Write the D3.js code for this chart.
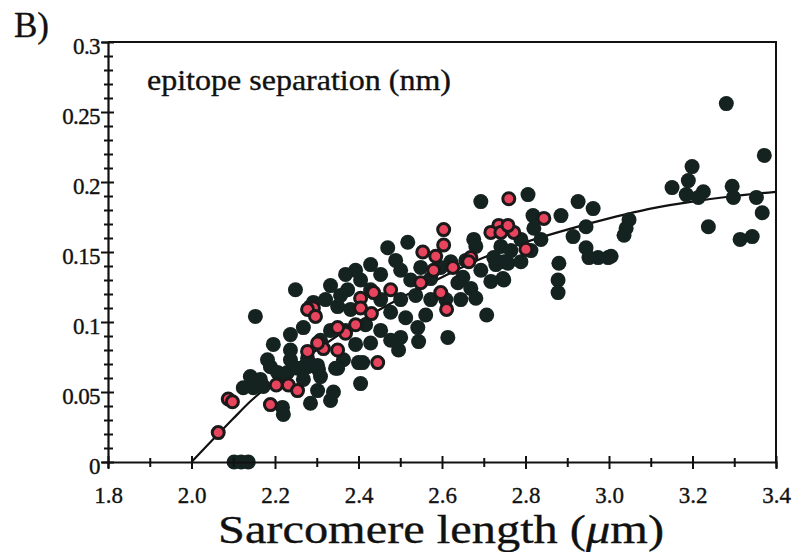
<!DOCTYPE html>
<html>
<head>
<meta charset="utf-8">
<script src="https://cdn.jsdelivr.net/npm/d3@7"></script>
<style>
  body { margin: 0; background: #fff; }
  svg { display: block; }
  svg text { font-family: "Liberation Serif", "Times New Roman", Times, serif; stroke: #111; stroke-width: 0.35px; }
</style>
</head>
<body>
<svg id="chart" width="800" height="552"></svg>
<script>
// Tick values and labels
const xTicks = [1.8, 2.0, 2.2, 2.4, 2.6, 2.8, 3.0, 3.2, 3.4];
const xMinorTicks = [1.9, 2.1, 2.3, 2.5, 2.7, 2.9, 3.1, 3.3];
const yTicks = [0, 0.05, 0.1, 0.15, 0.2, 0.25, 0.3];
const yTickLabels = ["0", "0.05", "0.1", "0.15", "0.2", "0.25", "0.3"];
const yMinorTicks = d3.range(1, 30).filter(i => i % 5 !== 0).map(i => i / 100);

// Fitted curve
const fitX = [2.0, 2.064, 2.1, 2.14, 2.2, 2.3, 2.4, 2.5, 2.6, 2.7, 2.8, 2.9, 3.0, 3.1, 3.2, 3.3, 3.4];
const fitY = [0, 0.02, 0.031, 0.043, 0.058, 0.08, 0.1, 0.117, 0.132, 0.146, 0.157, 0.166, 0.174, 0.181, 0.186, 0.19, 0.193];

// Dark (black) points: [sarcomere length, separation]
const darkPoints = [
  [3.281, 0.256], [3.372, 0.219], [3.199, 0.211], [3.190, 0.201], [3.151, 0.196], [3.185, 0.191],
  [3.226, 0.193], [3.214, 0.189], [3.295, 0.197], [3.298, 0.189], [3.353, 0.189], [3.367, 0.178],
  [3.238, 0.168], [3.314, 0.159], [3.343, 0.161], [3.048, 0.173], [3.041, 0.167], [3.036, 0.162],
  [2.998, 0.146], [2.974, 0.146], [3.005, 0.147],
  [2.693, 0.186], [2.806, 0.191], [2.926, 0.186], [2.962, 0.181], [2.885, 0.176], [2.945, 0.168],
  [2.914, 0.161], [2.945, 0.153], [2.952, 0.146], [2.880, 0.142], [2.878, 0.130], [2.878, 0.121],
  [2.818, 0.176], [2.820, 0.167], [2.837, 0.159], [2.789, 0.159], [2.741, 0.154], [2.724, 0.146],
  [2.729, 0.141], [2.748, 0.143], [2.746, 0.131], [2.765, 0.151], [2.707, 0.105], [2.676, 0.159],
  [2.681, 0.154], [2.518, 0.157], [2.650, 0.132], [2.638, 0.128], [2.542, 0.096], [2.614, 0.089],
  [2.544, 0.086], [2.470, 0.153], [2.489, 0.144], [2.496, 0.080], [2.410, 0.071], [2.429, 0.085],
  [2.453, 0.134], [2.758, 0.142], [2.748, 0.130],
  [2.249, 0.123], [2.153, 0.104], [2.374, 0.123], [2.292, 0.114], [2.350, 0.111], [2.268, 0.096],
  [2.237, 0.091], [2.196, 0.084], [2.237, 0.080], [2.182, 0.073], [2.364, 0.073], [2.350, 0.067],
  [2.501, 0.089], [2.141, 0.061], [2.230, 0.064], [2.278, 0.068], [2.304, 0.066], [2.285, 0.111],
  [2.189, 0.068], [2.237, 0.073], [2.278, 0.074], [2.254, 0.067], [2.206, 0.064], [2.302, 0.069],
  [2.345, 0.067], [2.400, 0.071], [2.165, 0.059], [2.124, 0.053], [2.148, 0.053], [2.172, 0.054],
  [2.220, 0.062], [2.268, 0.059], [2.309, 0.061], [2.302, 0.051], [2.340, 0.050], [2.285, 0.042],
  [2.333, 0.044], [2.405, 0.056], [2.218, 0.039], [2.220, 0.034],
  [2.102, 0], [2.119, 0], [2.136, 0],
  [2.501, 0.137], [2.525, 0.130], [2.549, 0.139], [2.573, 0.131], [2.597, 0.139], [2.621, 0.143],
  [2.657, 0.144], [2.669, 0.124], [2.645, 0.116], [2.609, 0.116], [2.573, 0.116], [2.537, 0.119],
  [2.501, 0.116], [2.477, 0.107], [2.513, 0.103], [2.561, 0.105], [2.453, 0.116], [2.429, 0.123],
  [2.405, 0.130], [2.429, 0.141], [2.393, 0.137], [2.369, 0.134], [2.357, 0.119], [2.333, 0.126],
  [2.321, 0.116], [2.381, 0.109], [2.417, 0.098], [2.453, 0.094], [2.477, 0.087], [2.393, 0.084],
  [2.333, 0.094], [2.309, 0.087], [2.369, 0.094], [2.693, 0.137], [2.717, 0.129], [2.681, 0.117],
  [2.789, 0.143], [2.813, 0.151]
];

// Red (pink) points
const redPoints = [
  [2.760, 0.188], [2.844, 0.174], [2.736, 0.169], [2.717, 0.164], [2.741, 0.164], [2.772, 0.164],
  [2.758, 0.169], [2.801, 0.152], [2.669, 0.146], [2.604, 0.166], [2.604, 0.155], [2.585, 0.147],
  [2.626, 0.139], [2.549, 0.128], [2.597, 0.121], [2.611, 0.109], [2.554, 0.150], [2.664, 0.143],
  [2.580, 0.137], [2.477, 0.123], [2.436, 0.121], [2.405, 0.117], [2.405, 0.110], [2.431, 0.106],
  [2.446, 0.071], [2.369, 0.092], [2.393, 0.098], [2.292, 0.110], [2.278, 0.109], [2.297, 0.104],
  [2.350, 0.096], [2.278, 0.079], [2.316, 0.081], [2.350, 0.080], [2.302, 0.085], [2.203, 0.055],
  [2.232, 0.055], [2.254, 0.051], [2.088, 0.045], [2.098, 0.043], [2.189, 0.041], [2.064, 0.021]
];

const svg = d3.select("#chart");
const plotLeft = 108, plotRight = 776, plotTop = 42, plotBottom = 462;

const x = d3.scaleLinear().domain([1.8, 3.4]).range([plotLeft, plotRight]);
const y = d3.scaleLinear().domain([0, 0.3]).range([plotBottom, plotTop]);

const ink = "#111";
const dark = "#142220";
const pink = "#e8445d";

// Frame: top and right edges
svg.append("path")
  .attr("d", `M${plotLeft},${plotTop}H${plotRight}V${plotBottom}`)
  .attr("fill", "none")
  .attr("stroke", ink)
  .attr("stroke-width", 2);

// Fitted curve (under the dots)
const fit = fitX.map((v, i) => [v, fitY[i]]);
svg.append("path")
  .datum(fit)
  .attr("fill", "none")
  .attr("stroke", ink)
  .attr("stroke-width", 2.2)
  .attr("d", d3.line().x(d => x(d[0])).y(d => y(d[1])).curve(d3.curveMonotoneX));

// Dots
svg.append("g").selectAll("circle")
  .data(darkPoints)
  .join("circle")
  .attr("cx", d => x(d[0]))
  .attr("cy", d => y(d[1]))
  .attr("r", 7.5)
  .attr("fill", dark);

svg.append("g").selectAll("circle")
  .data(redPoints)
  .join("circle")
  .attr("cx", d => x(d[0]))
  .attr("cy", d => y(d[1]))
  .attr("r", 6)
  .attr("fill", pink)
  .attr("stroke", "#1a1a1a")
  .attr("stroke-width", 3);

// X axis: major and minor ticks crossing the line
const xAxis = svg.append("g")
  .attr("transform", `translate(0,${plotBottom})`)
  .call(d3.axisBottom(x).tickValues(xTicks).tickFormat(d3.format(".1f")).tickSize(6).tickPadding(19));
xAxis.attr("font-family", null);
xAxis.select(".domain").attr("stroke", ink).attr("stroke-width", 2.2);
xAxis.selectAll(".tick line").attr("y1", -6).attr("y2", 7).attr("stroke", ink).attr("stroke-width", 2);
xAxis.selectAll(".tick text")
  .attr("fill", ink)
  .style("font-size", "23px");

const xMinor = svg.append("g")
  .attr("transform", `translate(0,${plotBottom})`)
  .call(d3.axisBottom(x).tickValues(xMinorTicks).tickFormat("").tickSize(4));
xMinor.select(".domain").remove();
xMinor.selectAll(".tick line").attr("y1", -4).attr("y2", 5).attr("stroke", ink).attr("stroke-width", 2);

// Y axis
const yAxis = svg.append("g")
  .attr("transform", `translate(${plotLeft},0)`)
  .call(d3.axisLeft(y).tickValues(yTicks).tickFormat((d, i) => yTickLabels[i]).tickSize(6).tickPadding(2));
yAxis.attr("font-family", null);
yAxis.select(".domain").attr("stroke", ink).attr("stroke-width", 2.2);
yAxis.selectAll(".tick line").attr("x1", -7).attr("x2", 6).attr("stroke", ink).attr("stroke-width", 2);
yAxis.selectAll(".tick text")
  .attr("fill", ink)
  .attr("dy", "0.5em")
  .style("font-size", "23px")
  .style("letter-spacing", "-0.6px");

const yMinor = svg.append("g")
  .attr("transform", `translate(${plotLeft},0)`)
  .call(d3.axisLeft(y).tickValues(yMinorTicks).tickFormat("").tickSize(4));
yMinor.select(".domain").remove();
yMinor.selectAll(".tick line").attr("x1", -4).attr("x2", 5).attr("stroke", ink).attr("stroke-width", 2);

// Texts
svg.append("text")
  .attr("x", 14).attr("y", 37)
  .style("font-size", "35px")
  .attr("fill", ink)
  .text("B)");

svg.append("text")
  .attr("x", 147).attr("y", 90)
  .style("font-size", "30px")
  .attr("textLength", 304)
  .attr("lengthAdjust", "spacingAndGlyphs")
  .attr("fill", ink)
  .text("epitope separation (nm)");

const xt = svg.append("text")
  .attr("x", 218).attr("y", 543)
  .style("font-size", "41px")
  .attr("textLength", 446)
  .attr("lengthAdjust", "spacingAndGlyphs")
  .attr("fill", ink);
xt.append("tspan").text("Sarcomere length (");
xt.append("tspan").style("font-style", "italic").text("μ");
xt.append("tspan").text("m)");
</script>
</body>
</html>
